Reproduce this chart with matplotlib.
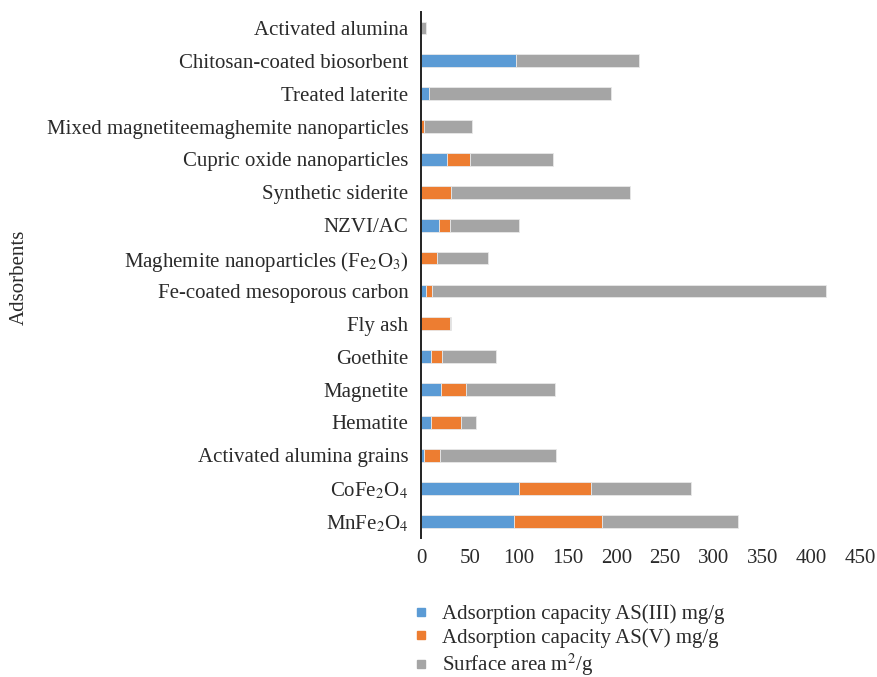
import matplotlib.pyplot as plt
from matplotlib.lines import Line2D
import numpy as np

plt.rcParams['font.family'] = ['Liberation Serif', 'DejaVu Serif']
plt.rcParams['mathtext.fontset'] = 'stix'

adsorbents = [
    "MnFe$_2$O$_4$",
    "CoFe$_2$O$_4$",
    "Activated alumina grains",
    "Hematite",
    "Magnetite",
    "Goethite",
    "Fly ash",
    "Fe-coated mesoporous carbon",
    "Maghemite nanoparticles (Fe$_2$O$_3$)",
    "NZVI/AC",
    "Synthetic siderite",
    "Cupric oxide nanoparticles",
    "Mixed magnetiteemaghemite nanoparticles",
    "Treated laterite",
    "Chitosan-coated biosorbent",
    "Activated alumina",
]
as3 = [95, 100.5, 3, 10, 21, 10, 0, 5.4, 0, 18, 0, 26.6, 0, 8.5, 97, 0]
as5 = [90, 74, 16, 31, 25.5, 12, 30, 5.5, 16.7, 12, 31, 23.2, 3.5, 0, 0, 0]
surface = [139.5, 102.5, 119, 15, 90.5, 54.5, 0.6, 404, 51.5, 70, 183.5, 85.4, 49, 185.7, 126, 5.5]

blue = '#5B9BD5'
orange = '#ED7D31'
gray = '#A5A5A5'
txt = '#2a2a2a'

fig = plt.figure(figsize=(8.77, 6.77), dpi=100)
ax = fig.add_axes([0.480, 0.206, 0.501, 0.777])

y = np.arange(len(adsorbents))
h = 0.39
a3 = np.array(as3)
a5 = np.array(as5)
sa = np.array(surface)
ax.barh(y, a3, height=h, color=blue, edgecolor='#e8e8e8', linewidth=0.6)
ax.barh(y, a5, left=a3, height=h, color=orange, edgecolor='#e8e8e8', linewidth=0.6)
ax.barh(y, sa, left=a3 + a5, height=h, color=gray, edgecolor='#e8e8e8', linewidth=0.6)

ax.set_xlim(0, 450)
ax.set_ylim(-0.5, len(adsorbents) - 0.5)
ax.set_xticks(np.arange(0, 451, 50))
ax.set_yticks(y)
ax.set_yticklabels(adsorbents)
ax.tick_params(axis='both', labelsize=15, colors=txt, length=0)
ax.tick_params(axis='x', pad=8)
ax.tick_params(axis='y', pad=9)
for s in ['top', 'right', 'bottom']:
    ax.spines[s].set_visible(False)
ax.spines['left'].set_linewidth(1.4)
ax.spines['left'].set_color('#222222')

fig.text(0.022, 0.59, 'Adsorbents', rotation=90, ha='center', va='center',
         fontsize=15, color=txt)

handles = [
    Line2D([], [], marker='s', linestyle='none', markersize=6, color=blue),
    Line2D([], [], marker='s', linestyle='none', markersize=6, color=orange),
    Line2D([], [], marker='s', linestyle='none', markersize=6, color=gray),
]
labels = [
    'Adsorption capacity AS(III) mg/g',
    'Adsorption capacity AS(V) mg/g',
    'Surface area m$^2$/g',
]
fig.legend(handles, labels, loc='upper left', bbox_to_anchor=(0.459, 0.12),
           frameon=False, fontsize=15, labelspacing=0.2, handletextpad=0.5,
           handlelength=1.0, borderaxespad=0, labelcolor=txt)

fig.savefig('out.png', dpi=100)
